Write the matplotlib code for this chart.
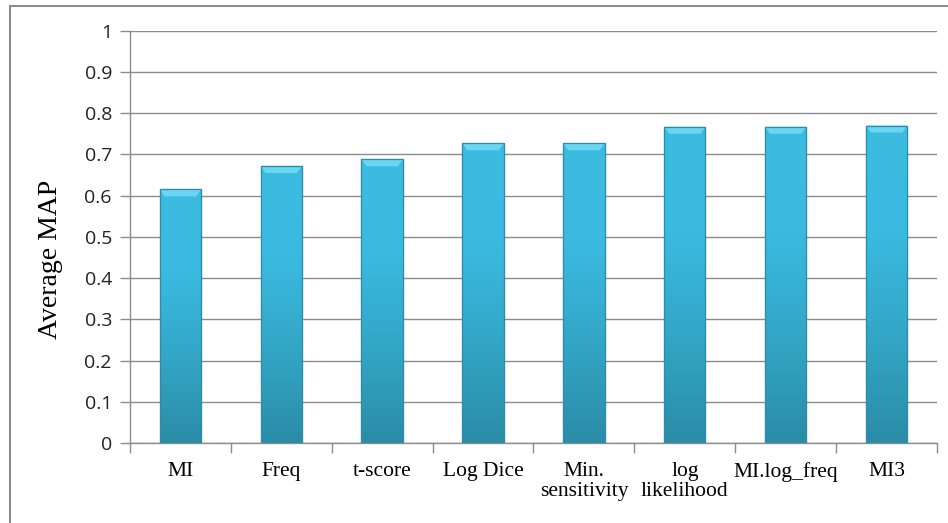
import numpy as np
import matplotlib.pyplot as plt
from matplotlib.colors import LinearSegmentedColormap
from matplotlib.patches import Rectangle, Polygon

# data
measures = ['MI', 'Freq', 't-score', 'Log Dice', 'Min.\nsensitivity',
            'log\nlikelihood', 'MI.log_freq', 'MI3']
avg_map = [0.615, 0.672, 0.688, 0.727, 0.727, 0.767, 0.767, 0.770]
yticks = [0, 0.1, 0.2, 0.3, 0.4, 0.5, 0.6, 0.7, 0.8, 0.9, 1]
ytick_labels = ['0', '0.1', '0.2', '0.3', '0.4', '0.5', '0.6', '0.7', '0.8', '0.9', '1']

fig = plt.figure(figsize=(9.48, 5.23), dpi=100)
ax = fig.add_axes([0.1371, 0.153, 0.8513, 0.7883])

# outer chart frame: a box whose right and bottom edges lie outside the image
W, H = 948, 523
frame = Rectangle((9.5 / W, -20 / H), 980 / W, (H - 6 + 20) / H,
                  transform=fig.transFigure, fill=False,
                  edgecolor='#8c8c8c', linewidth=1.5, zorder=0)
fig.add_artist(frame)

x = np.arange(len(measures))
bars = ax.bar(x, avg_map, width=0.41, color='#3ABAE0', edgecolor='#2a8aa3',
              linewidth=0.8, zorder=3)

# vertical gradient on each bar, darker towards the base
cmap = LinearSegmentedColormap.from_list('b', ['#2A8CA7', '#33A6C6', '#3ABAE0', '#3CBCE0'])
grad = np.linspace(0, 1, 256).reshape(-1, 1)
for b in bars:
    x0, w, h = b.get_x(), b.get_width(), b.get_height()
    im = ax.imshow(grad, extent=[x0, x0 + w, 0, h], origin='lower', cmap=cmap,
                   aspect='auto', zorder=3.5)
    im.set_clip_path(b)
    # bevelled top cap
    ch = 0.017
    inset = w * 0.12
    cap = Polygon([(x0, h), (x0 + w, h), (x0 + w - inset, h - ch), (x0 + inset, h - ch)],
                  closed=True, facecolor='#6AD6F2', edgecolor='none', zorder=3.6)
    ax.add_patch(cap)
    ax.add_patch(Rectangle((x0, 0), w, h, fill=False, edgecolor='#2b8da7',
                           linewidth=0.9, zorder=3.7))

ax.set_xlim(-0.5, len(measures) - 0.5)
ax.set_ylim(0, 1)
ax.set_yticks(yticks)
ax.set_yticklabels(ytick_labels, fontfamily='Open Sans', fontsize=14, color='#222222')
ax.set_xticks(x)
ax.set_xticklabels(measures, fontfamily='Liberation Serif', fontsize=15.5,
                   linespacing=1.05)
ax.set_xticks(np.arange(-0.5, len(measures)), minor=True)
ax.tick_params(axis='x', which='major', length=0, pad=14)
ax.tick_params(axis='x', which='minor', length=7, color='#8c8c8c', width=1)
ax.tick_params(axis='y', length=7, color='#8c8c8c', width=1, pad=6)

ax.yaxis.grid(True, color='#8c8c8c', linewidth=1.0, zorder=0)
ax.set_axisbelow(True)
for s in ['top', 'right']:
    ax.spines[s].set_visible(False)
for s in ['left', 'bottom']:
    ax.spines[s].set_color('#8c8c8c')
    ax.spines[s].set_linewidth(1.0)

ax.set_ylabel('Average MAP', fontfamily='Liberation Serif', fontsize=20)
ax.yaxis.set_label_coords(-0.083, 0.446)

fig.savefig('out.png', dpi=100)
